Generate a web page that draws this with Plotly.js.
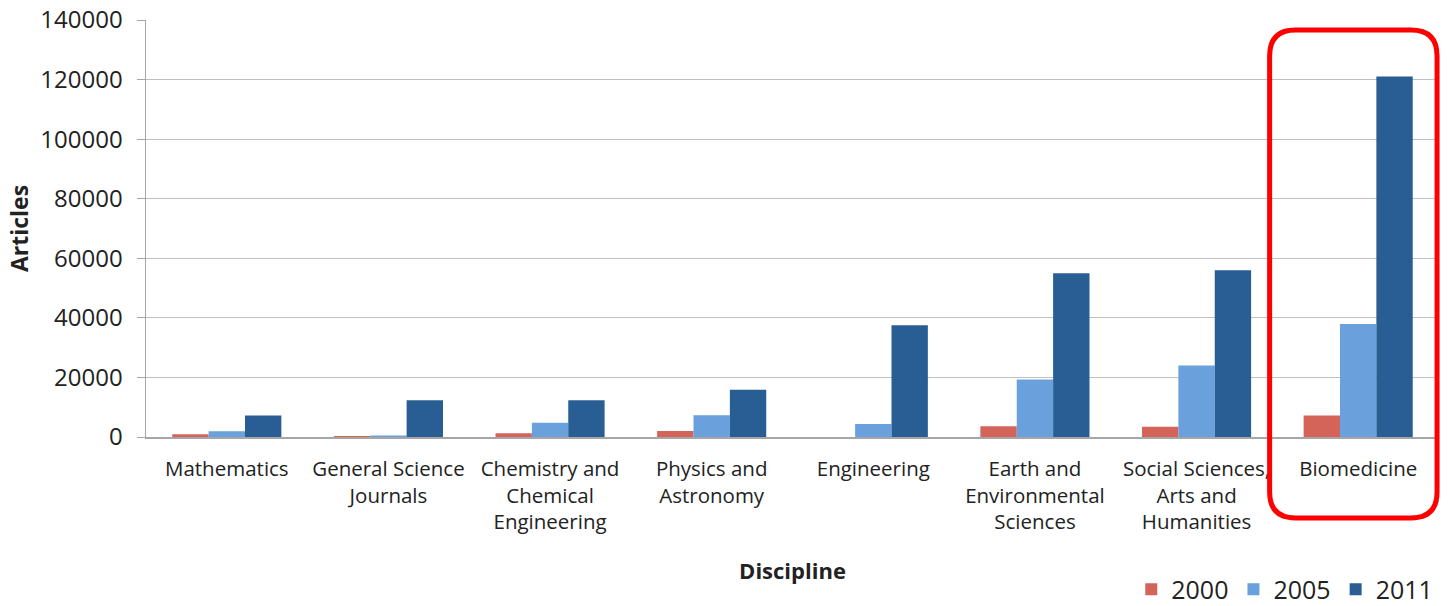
<!DOCTYPE html>
<html>
<head>
<meta charset="utf-8">
<script src="https://cdn.plot.ly/plotly-3.0.1.min.js"></script>
<style>html,body{margin:0;padding:0;background:#fff;}#chart{width:1448px;height:606px;}</style>
</head>
<body>
<div id="chart"></div>
<script>
const categories = [
  "Mathematics",
  "General Science<br>Journals",
  "Chemistry and<br>Chemical<br>Engineering",
  "Physics and<br>Astronomy",
  "Engineering",
  "Earth and<br>Environmental<br>Sciences",
  "Social Sciences,<br>Arts and<br>Humanities",
  "Biomedicine"
];
const seriesNames = ["2000", "2005", "2011"];
const values2000 = [900, 300, 1300, 2000, 0, 3600, 3400, 7200];
const values2005 = [1900, 500, 4800, 7300, 4400, 19300, 24000, 37900];
const values2011 = [7200, 12300, 12300, 15900, 37500, 55000, 56000, 121000];
const yTicks = [0, 20000, 40000, 60000, 80000, 100000, 120000, 140000];

const colors = ["#d4635a", "#6aa1dd", "#285e94"];
const allValues = [values2000, values2005, values2011];

const traces = allValues.map((v, i) => ({
  type: "bar",
  name: seriesNames[i],
  x: categories,
  y: v,
  marker: {color: colors[i]},
  hoverinfo: "x+y+name"
}));

// rounded highlight rectangle (paper coords)
const W = 1293, H = 417;
const x0 = 0.869, x1 = 0.9985, yT = 0.976, yB = -0.194;
const rx = 26 / W, ry = 26 / H;
const p = `M ${x0 + rx},${yT} L ${x1 - rx},${yT} Q ${x1},${yT} ${x1},${yT - ry} ` +
          `L ${x1},${yB + ry} Q ${x1},${yB} ${x1 - rx},${yB} ` +
          `L ${x0 + rx},${yB} Q ${x0},${yB} ${x0},${yB + ry} ` +
          `L ${x0},${yT - ry} Q ${x0},${yT} ${x0 + rx},${yT} Z`;

const layout = {
  width: 1448, height: 606,
  margin: {l: 146, r: 9, t: 20, b: 169, autoexpand: false},
  paper_bgcolor: "#ffffff",
  plot_bgcolor: "#ffffff",
  font: {family: "Open Sans, Liberation Sans, sans-serif", color: "#222"},
  barmode: "group",
  bargap: 0.325,
  bargroupgap: 0,
  showlegend: true,
  legend: {
    orientation: "h", x: 0.762, y: -0.366, xanchor: "left", yanchor: "middle",
    font: {size: 25, color: "#222"}, itemwidth: 30, tracegroupgap: 0,
    bgcolor: "rgba(0,0,0,0)"
  },
  xaxis: {
    type: "category",
    showline: true, linecolor: "#a6a6a6", linewidth: 1.5,
    ticks: "outside", ticklen: 13, tickcolor: "rgba(0,0,0,0)",
    showgrid: false,
    tickfont: {size: 20.5, color: "#222"},
    title: {text: "Discipline", font: {size: 22, color: "#222", family: "Open Sans, sans-serif", weight: "bold"}, standoff: 29},
    automargin: false
  },
  yaxis: {
    range: [0, 140000],
    tickvals: yTicks,
    ticktext: yTicks.map(String),
    showgrid: true, gridcolor: "#bfbfbf", gridwidth: 1,
    showline: true, linecolor: "#a6a6a6", linewidth: 1.5,
    ticks: "outside", ticklen: 8, tickcolor: "#a6a6a6",
    ticklabelstandoff: 9,
    tickfont: {size: 24, color: "#222"},
    zeroline: false,
    title: {text: "Articles", font: {size: 23, color: "#222", family: "Open Sans, sans-serif", weight: "bold"}, standoff: 5},
    automargin: false
  },
  shapes: [{
    type: "path", xref: "paper", yref: "paper", path: p,
    line: {color: "#ff0000", width: 5}, fillcolor: "rgba(0,0,0,0)", layer: "above"
  }]
};

Plotly.newPlot("chart", traces, layout, {displayModeBar: false, staticPlot: true});
</script>
</body>
</html>
